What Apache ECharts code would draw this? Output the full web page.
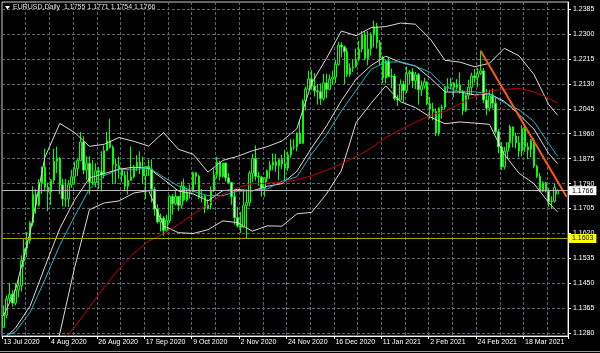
<!DOCTYPE html>
<html><head><meta charset="utf-8">
<script src="https://cdn.jsdelivr.net/npm/echarts@6/dist/echarts.min.js"></script>
<style>html,body{margin:0;padding:0;background:#000;}#c{width:600px;height:353px;}</style>
</head><body><div id="c"></div>
<script>
// ---- data ----
const symbolName = 'EURUSD,Daily';
const tickIdx = [0,16,32,48,64,80,96,112,128,144,160,176];
const tickLabels = ['13 Jul 2020','4 Aug 2020','26 Aug 2020','17 Sep 2020','9 Oct 2020','2 Nov 2020','24 Nov 2020','16 Dec 2020','11 Jan 2021','2 Feb 2021','24 Feb 2021','18 Mar 2021'];
const yTicks = [1.1280,1.1365,1.1450,1.1535,1.1620,1.1705,1.1790,1.1875,1.1960,1.2045,1.2130,1.2215,1.2300,1.2385];

const open = [
1.1300,1.1342,1.1398,1.1412,1.1383,1.1428,1.1442,1.1526,1.1569,1.1596,
1.1656,1.1753,1.1717,1.1791,1.1846,1.1778,1.1761,1.1801,1.1866,1.1876,
1.1786,1.1738,1.1738,1.1786,1.1813,1.1841,1.1869,1.1932,1.1836,1.1859,
1.1795,1.1793,1.1834,1.1830,1.1820,1.1903,1.1936,1.1914,1.1855,1.1851,
1.1838,1.1818,1.1781,1.1801,1.1813,1.1845,1.1863,1.1845,1.1816,1.1848,
1.1840,1.1771,1.1703,1.1660,1.1672,1.1631,1.1664,1.1746,1.1721,1.1746,
1.1716,1.1782,1.1734,1.1761,1.1763,1.1827,1.1815,1.1744,1.1747,1.1706,
1.1717,1.1768,1.1820,1.1863,1.1814,1.1860,1.1810,1.1794,1.1746,1.1674,
1.1646,1.1642,1.1715,1.1725,1.1825,1.1875,1.1815,1.1812,1.1775,1.1809,
1.1834,1.1853,1.1864,1.1851,1.1872,1.1857,1.1843,1.1888,1.1914,1.1915,
1.1962,1.1927,1.2072,1.2112,1.2146,1.2122,1.2106,1.2103,1.2079,1.2133,
1.2111,1.2146,1.2153,1.2196,1.2262,1.2256,1.2239,1.2162,1.2185,1.2188,
1.2213,1.2248,1.2297,1.2216,1.2249,1.2297,1.2325,1.2271,1.2219,1.2150,
1.2208,1.2155,1.2156,1.2080,1.2075,1.2129,1.2107,1.2165,1.2170,1.2140,
1.2161,1.2110,1.2123,1.2136,1.2062,1.2043,1.2036,1.1962,1.2047,1.2051,
1.2118,1.2120,1.2132,1.2118,1.2127,1.2105,1.2039,1.2091,1.2118,1.2157,
1.2151,1.2165,1.2174,1.2075,1.2047,1.2089,1.2064,1.1967,1.1915,1.1847,
1.1900,1.1929,1.1983,1.1952,1.1929,1.1901,1.1977,1.1915,1.1905,1.1938,
1.1849,1.1815,1.1764,1.1793,1.1764,1.1729,1.1730,1.1755];
const high = [
1.1375,1.1409,1.1452,1.1427,1.1451,1.1468,1.1546,1.1601,1.1625,1.1662,
1.1781,1.1771,1.1805,1.1848,1.1909,1.1793,1.1806,1.1909,1.1916,1.1881,
1.1807,1.1806,1.1802,1.1837,1.1865,1.1875,1.1966,1.1951,1.1883,1.1883,
1.1870,1.1859,1.1847,1.1900,1.1920,1.1966,1.2011,1.1920,1.1875,1.1882,
1.1844,1.1833,1.1834,1.1917,1.1853,1.1887,1.1900,1.1882,1.1849,1.1872,
1.1873,1.1778,1.1720,1.1688,1.1680,1.1684,1.1752,1.1754,1.1770,1.1748,
1.1797,1.1807,1.1774,1.1787,1.1831,1.1829,1.1821,1.1772,1.1751,1.1736,
1.1780,1.1842,1.1881,1.1868,1.1861,1.1860,1.1826,1.1796,1.1771,1.1710,
1.1694,1.1770,1.1770,1.1834,1.1891,1.1920,1.1830,1.1817,1.1812,1.1838,
1.1868,1.1893,1.1891,1.1872,1.1888,1.1905,1.1899,1.1941,1.1941,1.1965,
1.2004,1.2077,1.2120,1.2175,1.2177,1.2167,1.2130,1.2131,1.2164,1.2164,
1.2163,1.2175,1.2212,1.2273,1.2272,1.2260,1.2251,1.2200,1.2212,1.2250,
1.2276,1.2310,1.2310,1.2310,1.2305,1.2345,1.2338,1.2279,1.2226,1.2213,
1.2222,1.2182,1.2164,1.2093,1.2145,1.2140,1.2189,1.2177,1.2183,1.2170,
1.2167,1.2141,1.2151,1.2139,1.2085,1.2065,1.2046,1.2050,1.2059,1.2121,
1.2149,1.2150,1.2136,1.2146,1.2169,1.2109,1.2095,1.2144,1.2168,1.2181,
1.2183,1.2243,1.2184,1.2113,1.2110,1.2114,1.2086,1.1976,1.1931,1.1915,
1.1930,1.1990,1.1985,1.1963,1.1952,1.1989,1.1990,1.1930,1.1942,1.1945,
1.1854,1.1826,1.1798,1.1795,1.1775,1.1747,1.1791,1.1771];
const low = [
1.1300,1.1331,1.1389,1.1371,1.1375,1.1402,1.1422,1.1506,1.1540,1.1585,
1.1645,1.1687,1.1712,1.1755,1.1763,1.1696,1.1718,1.1790,1.1826,1.1754,
1.1712,1.1711,1.1710,1.1776,1.1787,1.1816,1.1867,1.1822,1.1803,1.1753,
1.1786,1.1777,1.1772,1.1763,1.1808,1.1901,1.1909,1.1789,1.1789,1.1807,
1.1795,1.1766,1.1753,1.1800,1.1808,1.1833,1.1822,1.1788,1.1737,1.1816,
1.1726,1.1681,1.1654,1.1627,1.1612,1.1626,1.1656,1.1684,1.1716,1.1696,
1.1704,1.1730,1.1729,1.1739,1.1760,1.1787,1.1737,1.1726,1.1689,1.1702,
1.1702,1.1761,1.1807,1.1800,1.1810,1.1797,1.1788,1.1718,1.1650,1.1640,
1.1622,1.1640,1.1603,1.1712,1.1795,1.1800,1.1783,1.1746,1.1745,1.1794,
1.1806,1.1835,1.1830,1.1801,1.1840,1.1802,1.1833,1.1878,1.1905,1.1900,
1.1924,1.1926,1.2039,1.2109,1.2110,1.2087,1.2059,1.2058,1.2073,1.2081,
1.2109,1.2126,1.2133,1.2192,1.2221,1.2129,1.2154,1.2154,1.2170,1.2185,
1.2206,1.2237,1.2210,1.2193,1.2226,1.2254,1.2250,1.2193,1.2132,1.2131,
1.2153,1.2115,1.2073,1.2054,1.2074,1.2066,1.2098,1.2130,1.2115,1.2112,
1.2059,1.2089,1.2113,1.2057,1.2011,1.2006,1.1952,1.1953,1.2011,1.2043,
1.2103,1.2111,1.2084,1.2110,1.2097,1.2023,1.2033,1.2078,1.2091,1.2134,
1.2118,1.2160,1.2064,1.2023,1.2036,1.2046,1.1960,1.1893,1.1836,1.1838,
1.1874,1.1912,1.1913,1.1910,1.1880,1.1883,1.1898,1.1873,1.1880,1.1842,
1.1809,1.1762,1.1761,1.1760,1.1711,1.1704,1.1725,1.1754];
const close = [
1.1342,1.1398,1.1412,1.1383,1.1428,1.1442,1.1526,1.1569,1.1596,1.1656,
1.1753,1.1717,1.1791,1.1846,1.1778,1.1761,1.1801,1.1866,1.1876,1.1786,
1.1738,1.1738,1.1786,1.1813,1.1841,1.1869,1.1932,1.1836,1.1859,1.1795,
1.1793,1.1834,1.1830,1.1820,1.1903,1.1936,1.1914,1.1855,1.1851,1.1838,
1.1818,1.1781,1.1801,1.1813,1.1845,1.1863,1.1845,1.1816,1.1848,1.1840,
1.1771,1.1703,1.1660,1.1672,1.1631,1.1664,1.1746,1.1721,1.1746,1.1716,
1.1782,1.1734,1.1761,1.1763,1.1827,1.1815,1.1744,1.1747,1.1706,1.1717,
1.1768,1.1820,1.1863,1.1814,1.1860,1.1810,1.1794,1.1746,1.1674,1.1646,
1.1642,1.1715,1.1725,1.1825,1.1875,1.1815,1.1812,1.1775,1.1809,1.1834,
1.1853,1.1864,1.1851,1.1872,1.1857,1.1843,1.1888,1.1914,1.1915,1.1962,
1.1927,1.2072,1.2112,1.2146,1.2122,1.2106,1.2103,1.2079,1.2133,1.2111,
1.2146,1.2153,1.2196,1.2262,1.2256,1.2239,1.2162,1.2185,1.2188,1.2213,
1.2248,1.2297,1.2216,1.2249,1.2297,1.2325,1.2271,1.2219,1.2150,1.2208,
1.2155,1.2156,1.2080,1.2075,1.2129,1.2107,1.2165,1.2170,1.2140,1.2161,
1.2110,1.2123,1.2136,1.2062,1.2043,1.2036,1.1962,1.2047,1.2051,1.2118,
1.2120,1.2132,1.2118,1.2127,1.2105,1.2039,1.2091,1.2118,1.2157,1.2151,
1.2165,1.2174,1.2075,1.2047,1.2089,1.2064,1.1967,1.1915,1.1847,1.1900,
1.1929,1.1983,1.1952,1.1929,1.1901,1.1977,1.1915,1.1905,1.1938,1.1849,
1.1815,1.1764,1.1793,1.1764,1.1729,1.1730,1.1777,1.1766];

// indicator lines, read at these bar positions
const lineIdx = [0,4,9,14,19,24,29,34,39,44,49,54,59,64,69,74,79,84,89,94,99,104,109,114,119,124,129,134,139,144,149,154,159,164,169,174,179,184,187];
const bbUpper = [1.1340,1.1426,1.1625,1.1880,1.1995,1.1964,1.1917,1.1924,1.1947,1.1934,1.1918,1.1964,1.1907,1.1890,1.1829,1.1869,1.1883,1.1902,1.1916,1.1935,1.1977,1.2132,1.2217,1.2310,1.2294,1.2321,1.2325,1.2337,1.2333,1.2283,1.2210,1.2204,1.2188,1.2200,1.2251,1.2225,1.2162,1.2059,1.2023];
const bbMiddle = [1.1260,1.1297,1.1373,1.1507,1.1637,1.1734,1.1809,1.1824,1.1839,1.1846,1.1842,1.1805,1.1765,1.1755,1.1731,1.1766,1.1770,1.1765,1.1781,1.1790,1.1832,1.1912,1.1986,1.2072,1.2146,1.2192,1.2224,1.2203,1.2191,1.2150,1.2102,1.2102,1.2092,1.2096,1.2070,1.2025,1.1976,1.1892,1.1858];
const bbLower = [1.1180,1.1168,1.1121,1.1134,1.1279,1.1504,1.1701,1.1724,1.1731,1.1758,1.1766,1.1646,1.1623,1.1620,1.1633,1.1663,1.1657,1.1628,1.1646,1.1645,1.1687,1.1692,1.1755,1.1834,1.1998,1.2063,1.2123,1.2069,1.2049,1.2017,1.1994,1.2000,1.1996,1.1992,1.1889,1.1825,1.1790,1.1725,1.1693];
const maCyan = [1.1269,1.1285,1.1352,1.1463,1.1580,1.1679,1.1772,1.1817,1.1838,1.1837,1.1844,1.1812,1.1782,1.1764,1.1749,1.1749,1.1764,1.1766,1.1772,1.1798,1.1813,1.1891,1.1956,1.2037,1.2108,1.2179,1.2204,1.2205,1.2190,1.2169,1.2120,1.2103,1.2103,1.2095,1.2066,1.2041,1.2002,1.1926,1.1883];
const maRed = [null,null,null,null,1.1242,1.1301,1.1369,1.1437,1.1500,1.1553,1.1594,1.1619,1.1650,1.1685,1.1719,1.1754,1.1776,1.1790,1.1792,1.1795,1.1803,1.1817,1.1835,1.1857,1.1882,1.1910,1.1947,1.1974,1.1999,1.2022,1.2036,1.2062,1.2086,1.2106,1.2111,1.2114,1.2103,1.2081,1.2064];

const trendIdx = [161, 190];
const trendVal = [1.2243, 1.1745];
const bidLevel = 1.1766;
const supportLevel = 1.1603;

// ---- chart ----
const slots = 191;
const FONT = '"Liberation Sans", Arial, sans-serif';
const cats = Array.from({length: slots}, (_, i) => String(i));
const labelMap = {};
tickIdx.forEach((k, i) => { labelMap[k] = tickLabels[i]; });
const candleData = open.map((o, i) => [o, close[i], low[i], high[i]]);
const pts = arr => lineIdx.map((x, i) => arr[i] == null ? null : [x, arr[i]]).filter(Boolean);
const last = close.length - 1;
const f4 = v => v.toFixed(4);
const headerText = symbolName + '  ' + [open[last], high[last], low[last], close[last]].map(f4).join(' ');

const lineSeries = (data, color, w) => ({
  type: 'line', data: data, showSymbol: false, symbol: 'none', silent: true,
  lineStyle: {color: color, width: w || 1}, z: 3, clip: true, animation: false
});

const chart = echarts.init(document.getElementById('c'), null, {renderer: 'canvas'});
chart.setOption({
  backgroundColor: '#000000',
  animation: false,
  grid: {left: 2, right: 32, top: 2, bottom: 17, show: true, borderColor: '#c8c8c8', borderWidth: 1, backgroundColor: 'transparent'},
  graphic: [
    {type: 'polygon', shape: {points: [[5, 6], [10, 6], [7.5, 9.5]]}, style: {fill: '#ffffff'}, z: 100},
    {type: 'text', left: 13, top: 4, style: {text: headerText, fill: '#e0e0e0', font: '7px ' + FONT}, z: 100},
    {type: 'line', shape: {x1: 0, y1: 351.5, x2: 600, y2: 351.5}, style: {stroke: '#9a9a9a', lineWidth: 1}, z: 100}
  ],
  xAxis: {
    type: 'category', data: cats, boundaryGap: true,
    axisLine: {show: true, lineStyle: {color: '#ffffff', width: 1}},
    axisTick: {show: true, length: 3, lineStyle: {color: '#ffffff'}, interval: (i) => labelMap[i] !== undefined},
    axisLabel: {show: true, color: '#ffffff', fontSize: 7, fontFamily: FONT, margin: 3, align: 'left',
      interval: (i) => labelMap[i] !== undefined, formatter: (v, i) => labelMap[i] || ''},
    splitLine: {show: true, interval: (i) => i > 0 && i % 8 === 0, lineStyle: {color: '#5c6674', type: [3, 2], width: 1}}
  },
  yAxis: {
    type: 'value', position: 'right', min: 1.12708, max: 1.24087, scale: true,
    axisLine: {show: true, lineStyle: {color: '#ffffff', width: 1}},
    axisTick: {show: true, length: 3, lineStyle: {color: '#ffffff'}, customValues: yTicks},
    axisLabel: {show: true, color: '#ffffff', fontSize: 7, fontFamily: FONT, margin: 5, customValues: yTicks, formatter: v => v.toFixed(4)},
    splitLine: {show: true, lineStyle: {color: '#5c6674', type: [3, 2], width: 1}}
  },
  series: [
    {
      type: 'candlestick', data: candleData, barWidth: 2, silent: true, z: 2,
      itemStyle: {color: '#000000', color0: '#e8ffe8', borderColor: '#00ff00', borderColor0: '#00ff00', borderWidth: 1}
    },
    lineSeries(pts(bbUpper), '#e6d4d4'),
    lineSeries(pts(bbMiddle), '#e6d4d4'),
    lineSeries(pts(bbLower), '#e6d4d4'),
    lineSeries(pts(maCyan), '#1fb8c8'),
    lineSeries(pts(maRed), '#c40000'),
    Object.assign(lineSeries([[trendIdx[0], trendVal[0]], [trendIdx[1], trendVal[1]]], '#ff5a10', 2), {
      z: 4,
      markLine: {
        silent: true, symbol: ['none', 'none'], animation: false, precision: 4,
        data: [
          {yAxis: bidLevel, lineStyle: {color: '#b8b8b8', width: 1, type: 'solid'},
           label: {show: true, position: 'end', distance: 1, formatter: () => f4(bidLevel), backgroundColor: '#ffffff', color: '#000000', fontSize: 7, fontFamily: FONT, padding: [1, 3, 1, 3]}},
          {yAxis: supportLevel, lineStyle: {color: '#a6a600', width: 1, type: 'solid'},
           label: {show: true, position: 'end', distance: 1, formatter: () => f4(supportLevel), backgroundColor: '#ffff00', color: '#000000', fontSize: 7, fontFamily: FONT, padding: [1, 3, 1, 3]}}
        ]
      }
    })
  ]
});
</script></body></html>
